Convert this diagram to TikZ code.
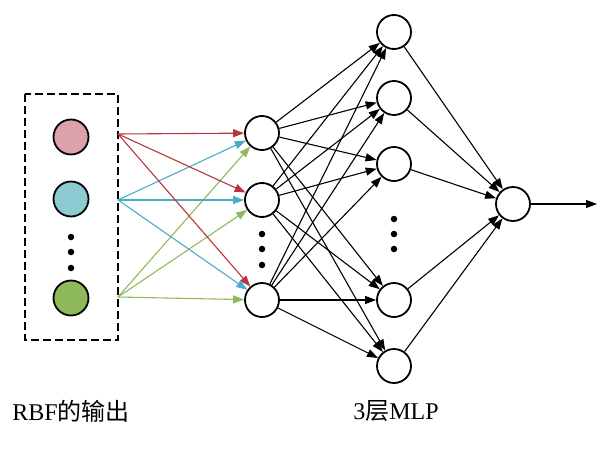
\documentclass[tikz,border=0pt]{standalone}
\usepackage{fontspec}
\setmainfont{Liberation Serif}
\newfontfamily\cjk{Noto Sans CJK SC}
\usetikzlibrary{arrows.meta}
\definecolor{cred}{HTML}{B8343F}
\definecolor{ccyan}{HTML}{4BACC6}
\definecolor{cgreen}{HTML}{8DBB5A}
\definecolor{fpink}{HTML}{DCA3AA}
\definecolor{fcyan}{HTML}{8BCBD2}
\definecolor{fgreen}{HTML}{8DB95A}
\tikzset{
  neuron/.style={circle,draw=black,line width=1.8pt,minimum size=34pt,inner sep=0pt,fill=white},
  inneuron/.style={neuron,minimum size=35pt},
  conn/.style={line width=1.1pt,-{Triangle[length=11pt,width=8pt]}},
  dotc/.style={circle,fill=black,inner sep=0pt,minimum size=6.5pt},
  lbl/.style={font=\fontsize{24}{26}\selectfont, inner sep=0pt}
}
\begin{document}
\begin{tikzpicture}[x=1pt,y=-1pt]
\useasboundingbox (0,0) rectangle (600,450);
% dashed box
\draw[line width=1.1pt,dash pattern=on 8pt off 4pt] (25,94) rectangle (118,340);
% input neurons
\node[inneuron,fill=fpink] (i1) at (71,137) {};
\node[inneuron,fill=fcyan] (i2) at (71,199) {};
\node[inneuron,fill=fgreen] (i3) at (71,298) {};
\node[dotc] (id1) at (71,237) {};
\node[dotc] (id2) at (71,252) {};
\node[dotc] (id3) at (71,268) {};
% start points on box edge
\coordinate (sr) at (118,134);
\coordinate (sc) at (118,200);
\coordinate (sg) at (118,297);
% hidden 1
\node[neuron] (h1) at (262,133) {};
\node[neuron] (h2) at (262,200) {};
\node[neuron] (h3) at (262,300) {};
\node[dotc] (hd1) at (262,234) {};
\node[dotc] (hd2) at (262,249) {};
\node[dotc] (hd3) at (262,265) {};
% hidden 2
\node[neuron] (k1) at (394,32) {};
\node[neuron] (k2) at (394,98) {};
\node[neuron] (k3) at (394,164) {};
\node[neuron] (k4) at (394,300) {};
\node[neuron] (k5) at (394,366) {};
\node[dotc] (kd1) at (394,219) {};
\node[dotc] (kd2) at (394,234) {};
\node[dotc] (kd3) at (394,249) {};
% output
\node[neuron] (o) at (513,204) {};
\coordinate (oend) at (597,204);
% input connections
\foreach \h in {h1,h2,h3} {
  \draw[conn,cred] (sr) -- (\h);
  \draw[conn,ccyan] (sc) -- (\h);
  \draw[conn,cgreen] (sg) -- (\h);
}
% hidden connections
\foreach \a in {h1,h2,h3} {
  \foreach \b in {k1,k2,k3,k4,k5} {
    \draw[conn] (\a) -- (\b);
  }
}
\foreach \b in {k1,k2,k3,k4,k5} {
  \draw[conn] (\b) -- (o);
}
\draw[conn] (o) -- (oend);
% labels
\node[lbl] (l1) at (71,411) {RBF{\cjk 的输出}};
\node[lbl] (l2) at (396,411) {3{\cjk 层}MLP};
\end{tikzpicture}
\end{document}
